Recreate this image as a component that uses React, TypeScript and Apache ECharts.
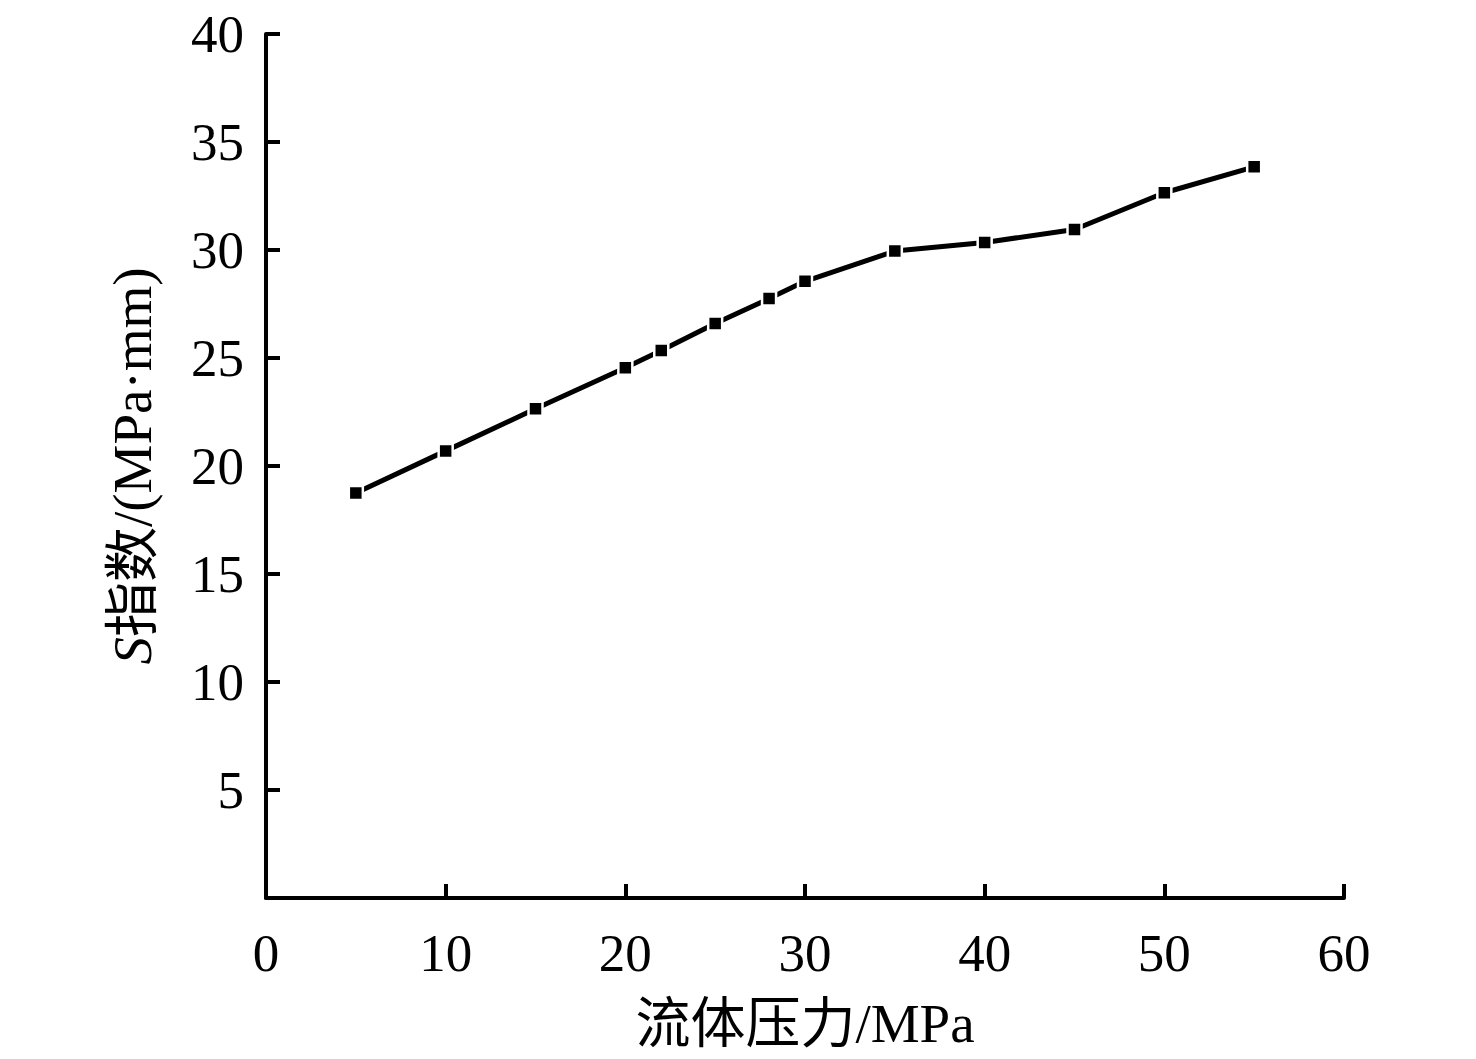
import React, { useEffect, useRef } from "react";
import * as echarts from "echarts";

const pressure = [5, 10, 15, 20, 22, 25, 28, 30, 35, 40, 45, 50, 55];
const sIndex = [18.75, 20.7, 22.65, 24.55, 25.35, 26.6, 27.75, 28.55, 29.95, 30.35, 30.95, 32.65, 33.85];
const xTicks = [0, 10, 20, 30, 40, 50, 60];
const yTicks = [0, 5, 10, 15, 20, 25, 30, 35, 40];

const FONT = "'Liberation Serif', 'Times New Roman', 'Noto Sans CJK SC', serif";

export default function App() {
  const ref = useRef<HTMLDivElement>(null);
  useEffect(() => {
    document.body.style.margin = "0";
    if (!ref.current) return;
    const chart = echarts.init(ref.current, undefined, { renderer: "svg" });
    chart.setOption({
      animation: false,
      backgroundColor: "#ffffff",
      grid: { left: 266, top: 34, right: 132, bottom: 161, containLabel: false },
      xAxis: {
        type: "value",
        min: xTicks[0],
        max: xTicks[xTicks.length - 1],
        interval: 10,
        name: "流体压力/MPa",
        nameLocation: "middle",
        nameGap: 98,
        nameTextStyle: { fontFamily: FONT, fontSize: 55, color: "#000" },
        axisLine: { show: true, lineStyle: { color: "#000", width: 4 } },
        axisTick: { show: true, inside: true, length: 14, lineStyle: { color: "#000", width: 4 } },
        axisLabel: { fontFamily: FONT, fontSize: 53, color: "#000", margin: 28 },
        splitLine: { show: false },
      },
      yAxis: {
        type: "value",
        min: yTicks[0],
        max: yTicks[yTicks.length - 1],
        interval: 5,
        name: "{i|S}指数/(MPa·mm)",
        nameLocation: "middle",
        nameGap: 106,
        nameRotate: 90,
        nameTextStyle: {
          fontFamily: FONT,
          fontSize: 55,
          color: "#000",
          rich: { i: { fontFamily: FONT, fontSize: 55, fontStyle: "italic", color: "#000" } },
        },
        axisLine: { show: true, lineStyle: { color: "#000", width: 4 } },
        axisTick: { show: true, inside: true, length: 14, lineStyle: { color: "#000", width: 4 } },
        axisLabel: {
          fontFamily: FONT,
          fontSize: 53,
          color: "#000",
          margin: 22,
          formatter: (v: number) => (v === 0 ? "" : String(v)),
        },
        splitLine: { show: false },
      },
      series: [
        {
          type: "line",
          data: pressure.map((p, i) => [p, sIndex[i]]),
          symbol: "rect",
          symbolSize: 14,
          lineStyle: { color: "#000", width: 5 },
          itemStyle: { color: "#000", borderColor: "#fff", borderWidth: 2.5 },
        },
      ],
    });
    return () => chart.dispose();
  }, []);
  return <div ref={ref} style={{ width: 1476, height: 1059 }} />;
}
